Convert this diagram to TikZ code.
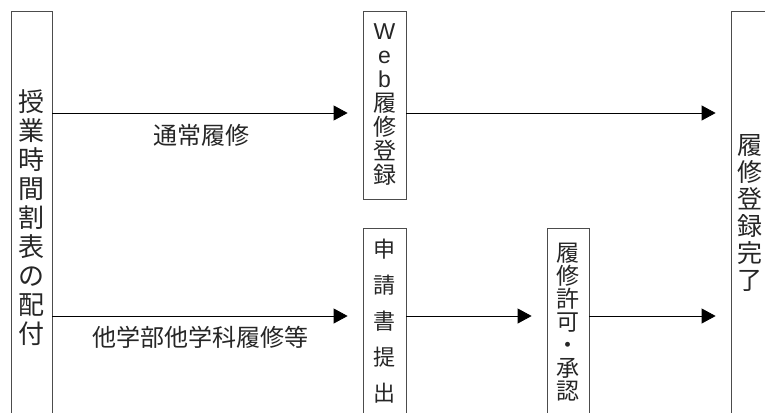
\documentclass[tikz,border=0pt]{standalone}
\usepackage{fontspec}
\setmainfont{Noto Sans CJK JP}
\newfontfamily\latinfont{Liberation Sans}
\usetikzlibrary{arrows.meta, positioning, calc}

\begin{document}
\begin{tikzpicture}[x=1pt, y=-1pt,
  box/.style={draw=black!70, line width=0.8pt, inner sep=0pt, align=center, text=black!85},
  flow/.style={draw=black, line width=0.8pt, -{Triangle[length=14pt,width=15pt]}, shorten >=15pt},
  note/.style={text=black!85, font=\fontsize{24}{24}\selectfont, inner sep=0pt}]

\useasboundingbox (0,0) rectangle (765,412);
\clip (0,0) rectangle (765,412);

\node[box, minimum width=41pt, minimum height=413pt, font=\fontsize{26}{29}\selectfont] (haifu) at (31.5,217.5) {授\\業\\時\\間\\割\\表\\の\\配\\付};
\node[box, minimum width=43pt, minimum height=188pt, font=\fontsize{23}{24}\selectfont] (web) at (384.5,105) {{\latinfont W}\\{\latinfont e}\\{\latinfont b}\\履\\修\\登\\録};
\node[box, minimum width=43pt, minimum height=186pt, font=\fontsize{22}{36}\selectfont] (shinsei) at (384.5,321) {申\\請\\書\\提\\出};
\node[box, minimum width=42pt, minimum height=188pt, font=\fontsize{23}{23}\selectfont] (kyoka) at (568,322) {履\\修\\許\\可\\・\\承\\認};
\node[box, minimum width=38pt, minimum height=404pt, font=\fontsize{25}{27}\selectfont] (kanryo) at (750,213) {履\\修\\登\\録\\完\\了};

\coordinate (row1) at (0,113);
\coordinate (row2) at (0,316);

% 通常履修
\draw[flow] (haifu.east |- row1) -- node[note, below=10.5pt, xshift=-6pt] {通常履修} (web.west |- row1);
\draw[flow] (web.east |- row1) -- (kanryo.west |- row1);

% 他学部他学科履修等
\draw[flow] (haifu.east |- row2) -- node[note, below=9.5pt, xshift=-7pt] {他学部他学科履修等} (shinsei.west |- row2);
\draw[flow] (shinsei.east |- row2) -- (kyoka.west |- row2);
\draw[flow] (kyoka.east |- row2) -- (kanryo.west |- row2);

\end{tikzpicture}
\end{document}
